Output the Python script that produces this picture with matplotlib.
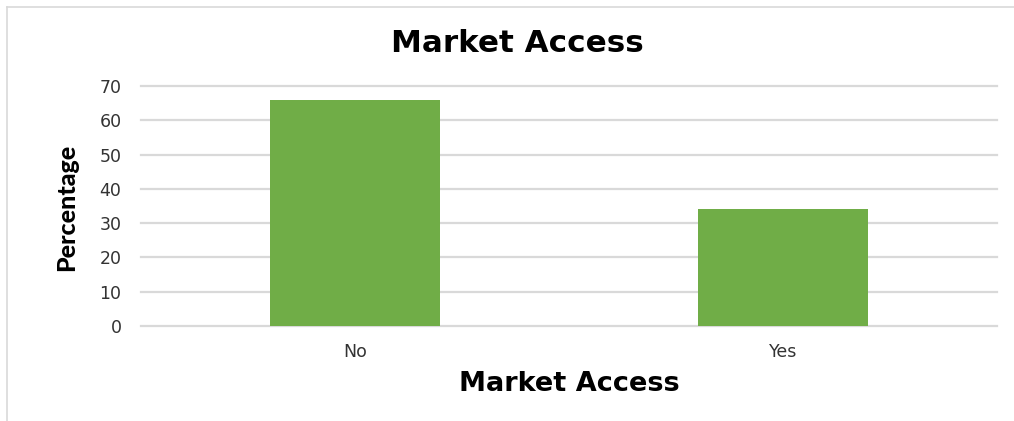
import matplotlib
matplotlib.use("Agg")
import matplotlib.pyplot as plt
from matplotlib.lines import Line2D

categories = ["No", "Yes"]
percentages = [66, 34]
y_ticks = [0, 10, 20, 30, 40, 50, 60, 70]

plt.rcParams["font.family"] = ["DejaVu Sans"]

W, H, DPI = 1014, 421, 100
fig = plt.figure(figsize=(W / DPI, H / DPI), dpi=DPI)

# axes box in pixel terms
left_px, right_px, top_px, bottom_px = 141, 997, 86, 326
ax = fig.add_axes([left_px / W, 1 - bottom_px / H,
                   (right_px - left_px) / W, (bottom_px - top_px) / H])

x = range(len(categories))
ax.bar(x, percentages, width=0.395, color="#70AD47", zorder=3)

ax.set_xlim(-0.5, len(categories) - 0.5)
ax.set_ylim(0, 70)
ax.set_yticks(y_ticks)
ax.set_xticks(list(x))
ax.set_xticklabels(categories)

ax.grid(axis="y", color="#d9d9d9", linewidth=1.6, zorder=0)
ax.grid(axis="x", visible=False)
for gl in ax.get_ygridlines():
    gl.set_clip_on(False)
for s in ax.spines.values():
    s.set_visible(False)
ax.tick_params(axis="both", length=0, labelsize=12.5, colors="#333333")
ax.tick_params(axis="y", pad=14)
ax.tick_params(axis="x", pad=12)

# titles and axis labels
fig.text(517 / W, 1 - 43 / H, "Market Access", ha="center", va="center",
         fontsize=22.3, fontweight="bold", color="black")
fig.text(569 / W, 1 - 384 / H, "Market Access", ha="center", va="center",
         fontsize=19.5, fontweight="bold", color="black")
fig.text(67 / W, 1 - 207 / H, "Percentage", ha="center", va="center",
         rotation=90, fontsize=18, fontweight=900, color="black",
         family=["Lato", "DejaVu Sans"])

# chart frame (top and left edges)
fig.add_artist(Line2D([7 / W, 1.0], [1 - 6.5 / H, 1 - 6.5 / H],
                      transform=fig.transFigure, color="#d9d9d9", linewidth=1.2))
fig.add_artist(Line2D([7 / W, 7 / W], [0, 1 - 6.5 / H],
                      transform=fig.transFigure, color="#d9d9d9", linewidth=1.2))

fig.savefig("out.png", dpi=DPI)
